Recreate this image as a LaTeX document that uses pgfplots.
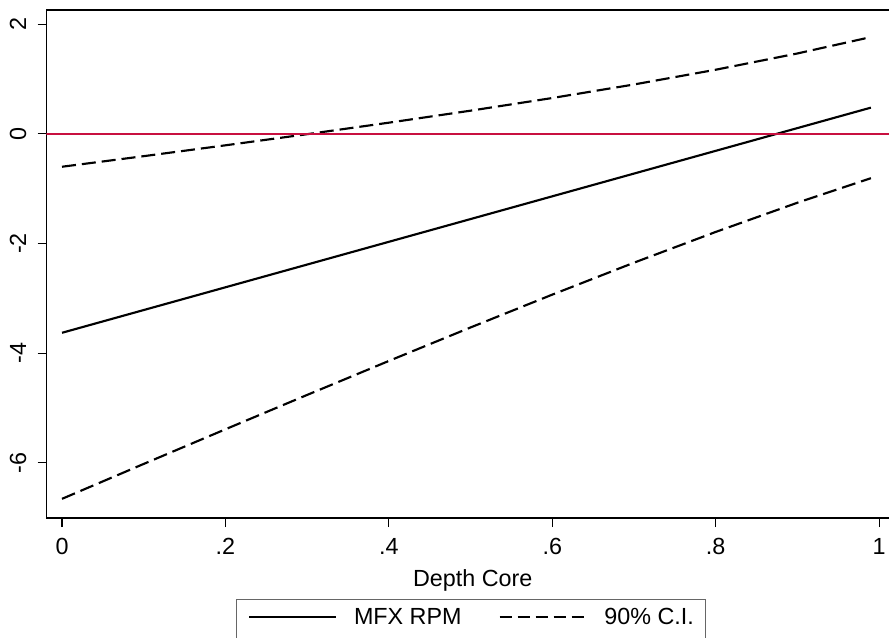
\documentclass[border=0pt]{standalone}
\usepackage{pgfplots}
\pgfplotsset{compat=1.18}
\usepackage{fontspec}
\setmainfont{Liberation Sans}
\definecolor{cran}{RGB}{200,16,64}
\newcommand\fs{\fontsize{17.5}{20}\selectfont}
\pgfplotsset{
  solidleg/.style={legend image code/.code={\draw[##1] (0pt,6pt) -- (65pt,6pt);}},
  dashleg/.style={legend image code/.code={\draw[##1, dash pattern=on 9pt off 4.5pt] (0pt,6pt) -- (65pt,6pt);}},
}
\begin{document}
\begin{tikzpicture}
\begin{axis}[name=ax, scale only axis, width=639.375pt, height=381pt,
  xmin=-0.019, xmax=1.0244, ymin=-7.01, ymax=2.26,
  xtick={0,0.2,0.4,0.6,0.8,1}, xticklabels={0,.2,.4,.6,.8,1},
  ytick={-6,-4,-2,0,2}, yticklabels={-6,-4,-2,0,2},
  tick align=outside, xtick pos=bottom, ytick pos=left,
  major tick length=6.75pt,
  tick style={black, line width=0.8pt},
  axis line style={black, line width=1.1pt},
  every tick label/.append style={font=\fs, inner sep=0pt, inner ysep=8.25pt},
  yticklabel style={rotate=90, anchor=south},
  xlabel={Depth Core},
  xlabel style={font=\fs, at={(axis description cs:0.5,0)}, anchor=base, yshift=-51.5pt},
  legend columns=2,
  legend style={at={(axis description cs:0.498,0)}, anchor=north, yshift=-60.75pt,
    draw=gray!80!black, line width=0.8pt, font=\fs, inner xsep=9pt, inner ysep=6pt,
    nodes={inner sep=0pt, text height=12.5pt, text depth=14pt},
    /tikz/every odd column/.append style={column sep=12.75pt},
    /tikz/every even column/.append style={column sep=27.75pt}},
]
\addplot[black, line width=1.6pt, solidleg]
  coordinates {(0,-3.63) (0.1,-3.215) (0.2,-2.80) (0.3,-2.385) (0.4,-1.97) (0.5,-1.555) (0.6,-1.14) (0.7,-0.725) (0.8,-0.31) (0.9,0.105) (0.99,0.4785)};
\addlegendentry{MFX RPM}
\addplot[black, line width=1.6pt, dash pattern=on 10.5pt off 4.5pt, dashleg]
  coordinates {(0,-0.600) (0.1,-0.407) (0.2,-0.209) (0.3,-0.006) (0.4,0.204) (0.5,0.423) (0.6,0.654) (0.7,0.901) (0.8,1.170) (0.9,1.467) (0.99,1.766)};
\addlegendentry{90\% C.I.}
\addplot[black, line width=1.6pt, dash pattern=on 10.5pt off 4.5pt, forget plot]
  coordinates {(0,-6.660) (0.1,-6.023) (0.2,-5.391) (0.3,-4.764) (0.4,-4.144) (0.5,-3.533) (0.6,-2.934) (0.7,-2.351) (0.8,-1.790) (0.9,-1.257) (0.99,-0.809)};
\addplot[cran, line width=1.5pt, forget plot] coordinates {(-0.019,0) (1.0244,0)};
\end{axis}
\pgfresetboundingbox
\path[use as bounding box] ([shift={(-34.875pt,-89.25pt)}]ax.south west) rectangle ([shift={(631.875pt,388.5pt)}]ax.south west);
\end{tikzpicture}
\end{document}
